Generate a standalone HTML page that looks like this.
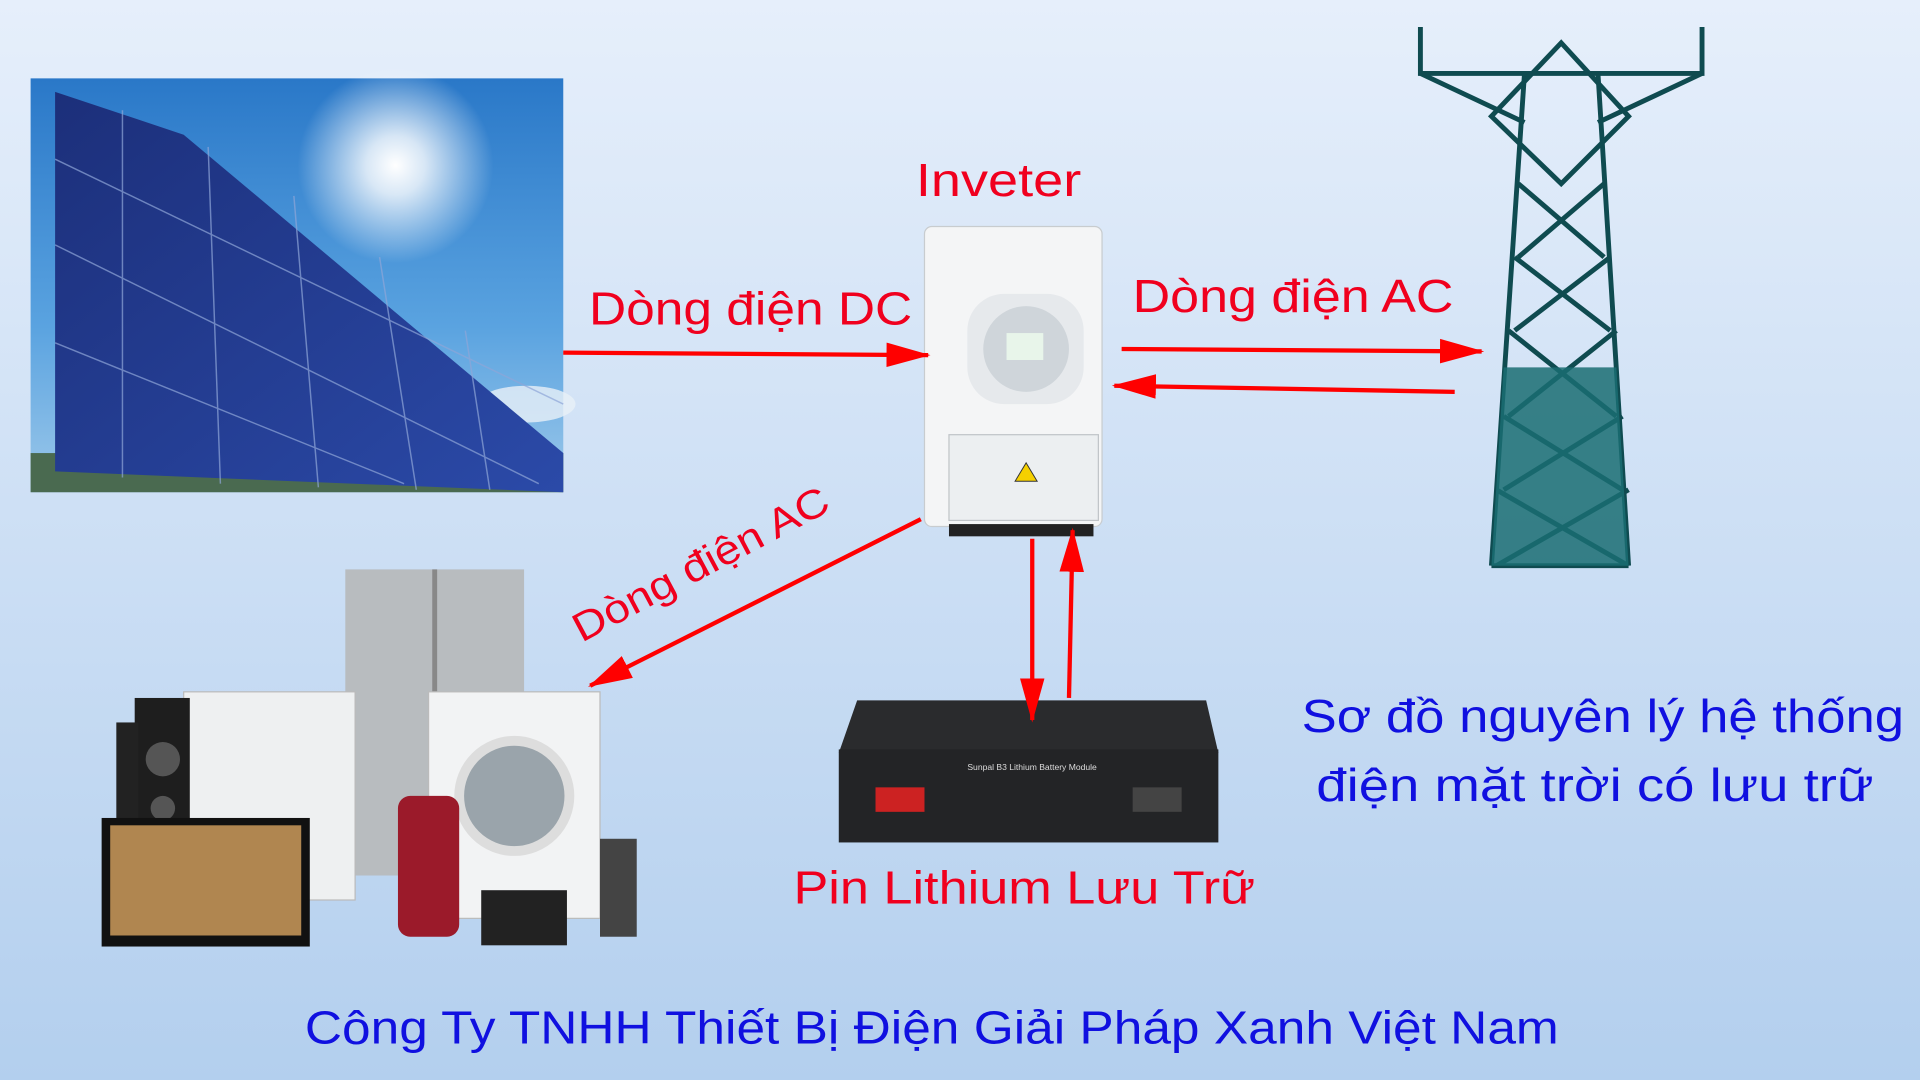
<!DOCTYPE html>
<html><head><meta charset="utf-8"><style>
html,body{margin:0;padding:0;width:1920px;height:1080px;overflow:hidden}
svg{display:block}
text{font-family:"Liberation Sans",sans-serif}
</style></head><body>
<svg width="1920" height="1080" viewBox="0 0 1568 882" xmlns="http://www.w3.org/2000/svg">
<defs>
<linearGradient id="bg" x1="0" y1="0" x2="0" y2="1"><stop offset="0" stop-color="#e6effb"/><stop offset="1" stop-color="#b3cfee"/></linearGradient>
<linearGradient id="sky" x1="0" y1="0" x2="0" y2="1"><stop offset="0" stop-color="#2a78c8"/><stop offset="0.6" stop-color="#5aa3e0"/><stop offset="1" stop-color="#9cc8ea"/></linearGradient>
<radialGradient id="sun" cx="0.5" cy="0.5" r="0.5"><stop offset="0" stop-color="#fff"/><stop offset="0.3" stop-color="#fff" stop-opacity="0.8"/><stop offset="1" stop-color="#fff" stop-opacity="0"/></radialGradient>
<linearGradient id="pnl" x1="0" y1="0" x2="1" y2="1"><stop offset="0" stop-color="#1c2f7a"/><stop offset="1" stop-color="#2b4aa8"/></linearGradient>
<marker id="ah" markerWidth="36" markerHeight="24" refX="34" refY="12" orient="auto" markerUnits="userSpaceOnUse" viewBox="0 0 36 24"><path d="M0,2 L36,12 L0,22 Z" fill="#f00"/></marker>
</defs>
<rect width="1568" height="882" fill="url(#bg)"/>
<!-- solar -->
<rect x="25" y="64" width="435" height="338" fill="url(#sky)"/>
<circle cx="323" cy="135" r="80" fill="url(#sun)"/>
<ellipse cx="430" cy="330" rx="40" ry="15" fill="#e8f0f8" opacity="0.8"/>
<rect x="25" y="370" width="435" height="32" fill="#4a6a50"/>
<polygon points="45,75 150,110 460,370 460,402 45,385" fill="url(#pnl)"/>
<g stroke="#8fa6d8" stroke-width="1.2" opacity="0.7">
<line x1="45" y1="130" x2="460" y2="330"/><line x1="45" y1="200" x2="440" y2="395"/><line x1="45" y1="280" x2="330" y2="395"/>
<line x1="100" y1="90" x2="100" y2="390"/><line x1="170" y1="120" x2="180" y2="395"/><line x1="240" y1="160" x2="260" y2="398"/><line x1="310" y1="210" x2="340" y2="400"/><line x1="380" y1="270" x2="400" y2="400"/>
</g>
<!-- inverter -->
<rect x="755" y="185" width="145" height="245" rx="6" fill="#f4f5f6" stroke="#c8cccf"/>
<rect x="790" y="240" width="95" height="90" rx="30" fill="#e6e9ec"/>
<circle cx="838" cy="285" r="35" fill="#cfd5da"/>
<rect x="822" y="272" width="30" height="22" fill="#e8f5ea"/>
<rect x="775" y="355" width="122" height="70" fill="#eceff1" stroke="#c0c4c8"/>
<polygon points="838,378 847,393 829,393" fill="#f5d000" stroke="#333" stroke-width="0.8"/>
<g fill="#222"><rect x="775" y="428" width="118" height="10"/></g>
<!-- tower -->
<g fill="none" stroke="#0f4b50" stroke-width="4">
<path d="M1160,22 V60 H1390 V22"/><path d="M1160,60 L1245,100 M1390,60 L1305,100"/>
<path d="M1245,60 L1218,462 M1305,60 L1330,462"/>
<path d="M1275,35 L1330,95 L1275,150 L1218,95 Z"/>
<path d="M1240,150 L1310,210 M1310,150 L1240,210 M1237,210 L1315,270 M1315,210 L1237,270 M1232,270 L1320,340 M1320,270 L1232,340 M1228,340 L1325,400 M1325,340 L1228,400 M1222,400 L1330,462 M1330,400 L1222,462"/>
<line x1="1218" y1="462" x2="1330" y2="462"/>
</g>
<polygon points="1228,300 1320,300 1330,462 1218,462" fill="#1a6d72" opacity="0.85"/>
<!-- appliances -->
<rect x="282" y="465" width="146" height="250" fill="#b8bcbf"/>
<rect x="353" y="465" width="4" height="250" fill="#888"/>
<rect x="150" y="565" width="140" height="170" fill="#eef0f1" stroke="#bbb"/>
<rect x="350" y="565" width="140" height="185" fill="#f2f3f4" stroke="#bbb"/>
<circle cx="420" cy="650" r="45" fill="#9aa4ab" stroke="#ddd" stroke-width="8"/>
<rect x="110" y="570" width="45" height="110" fill="#1e1e1e"/>
<circle cx="133" cy="620" r="14" fill="#555"/><circle cx="133" cy="660" r="10" fill="#555"/>
<rect x="95" y="590" width="18" height="80" fill="#222"/>
<rect x="83" y="668" width="170" height="105" fill="#111"/>
<rect x="90" y="674" width="156" height="90" fill="#b08650"/>
<rect x="325" y="650" width="50" height="115" rx="10" fill="#9b1a2a"/>
<rect x="393" y="727" width="70" height="45" fill="#222"/>
<rect x="490" y="685" width="30" height="80" fill="#444"/>
<!-- battery -->
<polygon points="700,572 985,572 995,615 685,615" fill="#2a2b2d"/>
<rect x="685" y="612" width="310" height="76" fill="#232426"/>
<rect x="715" y="643" width="40" height="20" fill="#c22"/>
<rect x="925" y="643" width="40" height="20" fill="#444"/>
<text x="790" y="629" font-size="7" fill="#ddd">Sunpal  B3 Lithium Battery Module</text>
<!-- arrows -->
<g stroke="#f00" stroke-width="3.5" fill="none" marker-end="url(#ah)">
<line x1="460" y1="288" x2="758" y2="290"/>
<line x1="916" y1="285" x2="1210" y2="287"/>
<line x1="1188" y1="320" x2="910" y2="315"/>
<line x1="752" y1="424" x2="482" y2="560"/>
<line x1="843" y1="440" x2="843" y2="588"/>
<line x1="873" y1="570" x2="876" y2="433"/>
</g>
<g fill="#f0001e" font-size="38">
<text x="748" y="160" textLength="135" lengthAdjust="spacingAndGlyphs">Inveter</text>
<text x="481" y="265" textLength="264" lengthAdjust="spacingAndGlyphs">Dòng điện DC</text>
<text x="925" y="255" textLength="262" lengthAdjust="spacingAndGlyphs">Dòng điện AC</text>
<text x="648" y="738" textLength="377" lengthAdjust="spacingAndGlyphs">Pin Lithium Lưu Trữ</text>
<text x="0" y="0" font-size="33" textLength="232" lengthAdjust="spacingAndGlyphs" transform="translate(475,525) rotate(-28)">Dòng điện AC</text>
</g>
<g fill="#1010e0" font-size="38">
<text x="1063" y="598" textLength="492" lengthAdjust="spacingAndGlyphs">Sơ đồ nguyên lý hệ thống</text>
<text x="1075" y="654" textLength="455" lengthAdjust="spacingAndGlyphs">điện mặt trời có lưu trữ</text>
<text x="249" y="852" textLength="1024" lengthAdjust="spacingAndGlyphs">Công Ty TNHH Thiết Bị Điện Giải Pháp Xanh Việt Nam</text>
</g>
</svg>
</body></html>
